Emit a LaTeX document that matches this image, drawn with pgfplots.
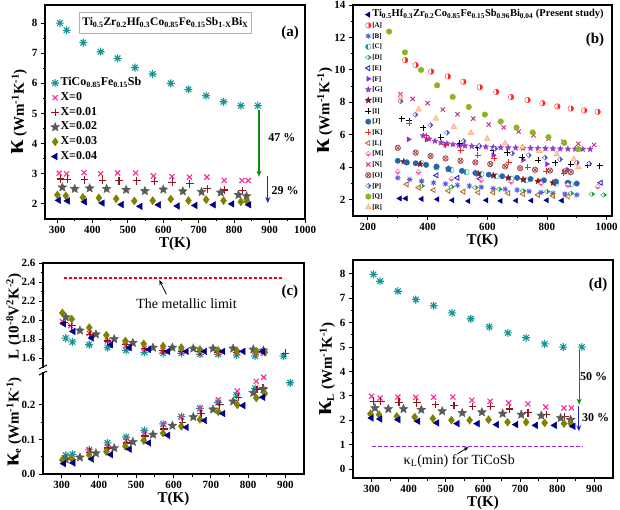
\documentclass[border=0pt]{standalone}
\usepackage{pgfplots}
\pgfplotsset{compat=1.18}
\usepackage{fontspec}
\setmainfont{Liberation Serif}
\usetikzlibrary{plotmarks,arrows.meta}

\definecolor{cTeal}{RGB}{20,150,150}
\definecolor{cPink}{RGB}{255,40,150}
\definecolor{cDRed}{RGB}{150,20,30}
\definecolor{cGray}{RGB}{90,90,90}
\definecolor{cOlive}{RGB}{128,128,0}
\definecolor{cNavy}{RGB}{0,0,140}
\definecolor{cGreen}{RGB}{20,140,20}
\definecolor{cBlue}{RGB}{20,40,200}
\definecolor{cPurple}{RGB}{140,40,230}
\definecolor{bA}{RGB}{255,40,40}
\definecolor{bB}{RGB}{90,90,230}
\definecolor{bC}{RGB}{30,160,160}
\definecolor{bD}{RGB}{30,160,60}
\definecolor{bE}{RGB}{40,40,190}
\definecolor{bF}{RGB}{140,40,240}
\definecolor{bG}{RGB}{150,60,200}
\definecolor{bH}{RGB}{140,20,30}
\definecolor{bJ}{RGB}{40,100,170}
\definecolor{bK}{RGB}{255,30,30}
\definecolor{bL}{RGB}{170,110,50}
\definecolor{bM}{RGB}{255,90,170}
\definecolor{bN}{RGB}{200,40,140}
\definecolor{bO}{RGB}{170,70,70}
\definecolor{bP}{RGB}{80,80,190}
\definecolor{bQ}{RGB}{140,180,30}
\definecolor{bR}{RGB}{255,150,80}

\pgfdeclareplotmark{ast8}{%
 \pgfpathmoveto{\pgfqpoint{-\pgfplotmarksize}{0pt}}\pgfpathlineto{\pgfqpoint{\pgfplotmarksize}{0pt}}%
 \pgfpathmoveto{\pgfqpoint{0pt}{-\pgfplotmarksize}}\pgfpathlineto{\pgfqpoint{0pt}{\pgfplotmarksize}}%
 \pgfpathmoveto{\pgfpointpolar{45}{\pgfplotmarksize}}\pgfpathlineto{\pgfpointpolar{225}{\pgfplotmarksize}}%
 \pgfpathmoveto{\pgfpointpolar{135}{\pgfplotmarksize}}\pgfpathlineto{\pgfpointpolar{315}{\pgfplotmarksize}}%
 \pgfusepathqstroke}
\pgfdeclareplotmark{fstar}{%
 \pgfpathmoveto{\pgfpointpolar{90}{\pgfplotmarksize}}%
 \pgfpathlineto{\pgfpointpolar{126}{0.45\pgfplotmarksize}}%
 \pgfpathlineto{\pgfpointpolar{162}{\pgfplotmarksize}}%
 \pgfpathlineto{\pgfpointpolar{198}{0.45\pgfplotmarksize}}%
 \pgfpathlineto{\pgfpointpolar{234}{\pgfplotmarksize}}%
 \pgfpathlineto{\pgfpointpolar{270}{0.45\pgfplotmarksize}}%
 \pgfpathlineto{\pgfpointpolar{306}{\pgfplotmarksize}}%
 \pgfpathlineto{\pgfpointpolar{342}{0.45\pgfplotmarksize}}%
 \pgfpathlineto{\pgfpointpolar{18}{\pgfplotmarksize}}%
 \pgfpathlineto{\pgfpointpolar{54}{0.45\pgfplotmarksize}}%
 \pgfpathclose\pgfusepathqfillstroke}

\pgfplotsset{
 myax/.style={scale only axis, anchor=south west, clip=false,
  tick align=outside, tick pos=left,
  axis line style={line width=1.1pt},
  major tick length=4pt, minor tick length=2.5pt,
  every tick/.append style={black, line width=0.9pt},
  ticklabel style={font=\bfseries\fontsize{11}{11}\selectfont},
  /pgf/number format/assume math mode=true,
  /pgf/number format/1000 sep={},
  xlabel style={font=\bfseries\fontsize{15}{15}\selectfont},
  ylabel style={font=\bfseries\fontsize{15}{15}\selectfont},
  xlabel shift=-3.5pt,
  minor x tick num=1, minor y tick num=1},
 sTiCo/.style={only marks, mark=ast8, mark size=4pt, cTeal, line width=1.1pt},
 sX0/.style={only marks, mark=x, mark size=3.6pt, cPink, line width=1.1pt},
 sX1/.style={only marks, mark=+, mark size=3.8pt, cDRed, line width=1.2pt},
 sX2/.style={only marks, mark=fstar, mark size=4.6pt, cGray, mark options={fill=cGray}},
 sX3/.style={only marks, mark=diamond*, mark size=4pt, cOlive, mark options={fill=cOlive}},
 sX4/.style={only marks, mark=triangle*, mark size=3.8pt, cNavy, mark options={fill=cNavy, rotate=90}},
}

\begin{document}
\begin{tikzpicture}
\path[use as bounding box] (0,0) rectangle (620pt,509pt);

%================ (a)
\begin{axis}[myax, at={(45pt,290pt)}, width=260pt, height=214pt,
 xmin=266, xmax=1000, ymin=1.5, ymax=8.6,
 xtick={300,400,...,1000}, ytick={2,3,...,8},
 xlabel={T(K)}, ylabel shift=-2pt,
 ylabel={{\fontsize{26}{26}\selectfont κ} (Wm\textsuperscript{-1}K\textsuperscript{-1})},
 legend style={at={(0.01,0.68)}, anchor=north west, draw=none, fill=none,
  font=\bfseries\fontsize{12}{12}\selectfont, row sep=0pt,
  nodes={inner sep=1pt, text height=9pt, text depth=3.7pt}},
 legend cell align=left]
\addplot[sTiCo] coordinates {(308,8.0)(327,7.76)(374,7.35)(423,7.05)(471,6.83)(520,6.52)(570,6.31)(621,6.0)(671,5.8)(721,5.59)(770,5.39)(819,5.26)(867,5.26)};
\addlegendentry{TiCo\textsubscript{0.85}Fe\textsubscript{0.15}Sb}
\addplot[sX0] coordinates {(306,3.02)(327,3.0)(376,3.04)(423,3.0)(471,3.03)(522,3.03)(572,2.93)(624,2.91)(674,2.89)(723,2.89)(772,2.78)(822,2.78)(840,2.78)};
\addlegendentry{X=0}
\addplot[sX1] coordinates {(310,2.83)(330,2.82)(378,2.80)(428,2.79)(475,2.77)(525,2.77)(575,2.74)(625,2.72)(675,2.67)(724,2.5)(772,2.46)(823,2.44)};
\addlegendentry{X=0.01}
\addplot[sX2] coordinates {(315,2.55)(350,2.5)(392,2.52)(440,2.5)(495,2.47)(548,2.43)(600,2.48)(655,2.42)(708,2.4)(762,2.38)(812,2.3)(835,2.26)};
\addlegendentry{X=0.02}
\addplot[sX3] coordinates {(301,2.3)(325,2.27)(373,2.22)(418,2.2)(467,2.17)(518,2.1)(570,2.11)(621,2.16)(671,2.11)(721,2.14)(770,2.11)(819,2.07)(836,2.08)};
\addlegendentry{X=0.03}
\addplot[sX4] coordinates {(305,2.12)(330,2.1)(378,2.07)(428,2.03)(482,1.98)(535,1.92)(587,1.97)(640,1.93)(690,1.95)(742,1.97)(794,2.0)(842,1.97)};
\addlegendentry{X=0.04}
\node[draw=gray!60, line width=0.8pt, fill=white, inner sep=3pt, minimum width=165pt, minimum height=21pt,
 font=\bfseries\fontsize{11.5}{12}\selectfont] at (axis cs:606,8.02)
 {Ti\textsubscript{0.5}Zr\textsubscript{0.2}Hf\textsubscript{0.3}Co\textsubscript{0.85}Fe\textsubscript{0.15}Sb\textsubscript{1-X}Bi\textsubscript{X}};
\node[font=\bfseries\fontsize{15}{15}\selectfont] at (axis cs:958,7.67) {(a)};
\draw[cGreen, line width=1.2pt, -{Stealth[length=6pt,width=5pt]}] (axis cs:870,5.1) -- (axis cs:870,2.9);
\draw[cBlue, line width=1.2pt, -{Stealth[length=6pt,width=5pt]}] (axis cs:895,2.92) -- (axis cs:895,2.03);
\node[font=\bfseries\fontsize{12}{12}\selectfont] at (axis cs:935,4.19) {47 \%};
\node[font=\bfseries\fontsize{12}{12}\selectfont] at (axis cs:944,2.43) {29 \%};
\end{axis}

%================ (b)
\begin{axis}[myax, at={(353pt,293pt)}, width=259pt, height=211pt,
 xmin=150, xmax=1018, ymin=1, ymax=14,
 xtick={200,400,...,1000}, ytick={2,4,...,14},
 xlabel={T(K)}, ylabel shift=-5pt,
 ylabel={{\fontsize{26}{26}\selectfont κ} (Wm\textsuperscript{-1}K\textsuperscript{-1})},
 legend style={at={(0.035,0.99)}, anchor=north west, draw=none, fill=none,
  font=\bfseries\fontsize{7}{7}\selectfont, row sep=0pt,
  nodes={inner sep=0.9pt, text height=6.6pt, text depth=2.3pt}},
 legend cell align=left,
 legend image code/.code={\draw[mark repeat=2,mark phase=2,#1] plot coordinates {(0cm,0cm) (0.13cm,0cm) (0.26cm,0cm)};}]
\addplot[only marks, mark=triangle*, mark size=3pt, cNavy, mark options={fill=cNavy, rotate=90}] coordinates {(307,2.08)(327,2.08)(380,2.05)(433,2.03)(483,1.97)(537,1.92)(597,1.97)(645,1.93)(697,1.95)(748,1.95)(800,1.97)(850,1.95)};
\addlegendentry{\fontsize{10.5}{10.5}\selectfont Ti\textsubscript{0.5}Hf\textsubscript{0.3}Zr\textsubscript{0.2}Co\textsubscript{0.85}Fe\textsubscript{0.15}Sb\textsubscript{0.96}Bi\textsubscript{0.04} (Present study)}
\addplot[only marks, mark=halfcircle*, mark size=2.8pt, bA, mark options={fill=bA, rotate=-90}] coordinates {(325,10.6)(360,10.3)(412,9.9)(468,9.6)(520,9.27)(575,8.93)(630,8.65)(680,8.33)(735,8.15)(785,7.95)(835,7.75)(880,7.62)(925,7.5)(970,7.42)};
\addlegendentry{[A]}
\addplot[only marks, mark=ast8, mark size=2.8pt, bB, line width=0.8pt] coordinates {(300,3.35)(340,3.25)(380,3.15)(420,3.05)(460,2.98)(500,2.9)(540,2.85)(580,2.78)(620,2.7)(660,2.65)(700,2.6)(740,2.52)(780,2.45)(820,2.4)(860,2.35)(900,2.3)};
\addlegendentry{[B]}
\addplot[only marks, mark=halfcircle*, mark size=2.8pt, bC, mark options={fill=bC, rotate=90}] coordinates {(330,4.3)(380,4.25)(430,4.0)(480,3.85)(530,3.7)(580,3.58)(630,3.45)(680,3.3)(730,3.2)(780,3.12)(830,3.0)(880,2.95)};
\addlegendentry{[C]}
\addplot[only marks, mark=halfdiamond*, mark size=3pt, bD, mark options={fill=bD, rotate=90}] coordinates {(380,2.85)(480,2.8)(560,2.75)(640,2.65)(720,2.55)(800,2.5)(880,2.4)(950,2.35)(990,2.3)};
\addlegendentry{[D]}
\addplot[only marks, mark=triangle, mark size=2.8pt, bE, line width=0.9pt, mark options={rotate=90}] coordinates {(430,3.5)(500,3.35)(575,3.3)(980,3.05)};
\addlegendentry{[E]}
\addplot[only marks, mark=triangle*, mark size=2.8pt, bF, mark options={fill=bF, rotate=-90}] coordinates {(336,5.72)(396,5.7)(459,5.38)(511,5.35)(620,4.75)(720,4.45)(800,4.2)(870,3.85)};
\addlegendentry{[F]}
\addplot[only marks, mark=fstar, mark size=3pt, bG, mark options={fill=bG}] coordinates {(385,5.95)(405,5.75)(425,5.62)(445,5.52)(465,5.46)(485,5.41)(505,5.37)(525,5.33)(548,5.3)(570,5.28)(595,5.26)(620,5.24)(645,5.22)(670,5.21)(695,5.2)(720,5.19)(745,5.18)(770,5.17)(795,5.16)(820,5.15)(845,5.14)(870,5.13)(895,5.13)(920,5.12)(945,5.12)};
\addlegendentry{[G]}
\addplot[only marks, mark=fstar, mark size=3.2pt, bH, mark options={fill=bH}] coordinates {(320,4.35)(375,4.2)(470,3.9)(570,3.6)(620,3.5)(670,3.35)(720,3.25)(770,3.15)(820,3.05)(870,3.0)};
\addlegendentry{[H]}
\addplot[only marks, mark=+, mark size=3pt, black, line width=0.9pt] coordinates {(313,7.0)(338,6.88)(386,6.43)(444,5.85)(508,5.47)(568,5.22)(620,5.02)(666,4.9)(718,4.62)(770,4.45)(827,4.28)(879,4.2)(936,4.12)(977,4.1)};
\addlegendentry{[I]}
\addplot[only marks, mark=*, mark size=2.7pt, bJ, mark options={fill=bJ}] coordinates {(300,4.4)(330,4.3)(360,4.25)(395,4.15)(430,4.05)(470,3.9)(515,3.78)(560,3.65)(605,3.55)(650,3.45)(700,3.35)(745,3.28)(790,3.2)(830,3.12)(870,3.05)(900,3.0)};
\addlegendentry{[J]}
\addplot[only marks, mark=+, mark size=3pt, bK, line width=0.9pt] coordinates {(338,6.72)(396,5.95)(460,5.38)(511,5.05)(568,4.75)(623,4.55)(672,4.3)(735,4.0)(798,3.75)(856,3.62)};
\addlegendentry{[K]}
\addplot[only marks, mark=triangle, mark size=2.8pt, bL, line width=0.9pt, mark options={rotate=90}] coordinates {(330,2.95)(370,2.75)(420,2.6)(470,2.55)(520,2.5)(570,2.45)(620,2.45)(670,2.4)(720,2.35)(770,2.3)(820,2.25)(870,2.2)};
\addlegendentry{[L]}
\addplot[only marks, mark=halfsquare*, mark size=2.6pt, bM, mark options={fill=bM}] coordinates {(300,3.72)(370,3.7)(480,3.3)(580,3.2)(680,3.1)(780,3.0)(870,2.9)(970,2.8)};
\addlegendentry{[M]}
\addplot[only marks, mark=x, mark size=3pt, bN, line width=0.9pt] coordinates {(309,8.5)(350,8.22)(400,7.95)(451,7.56)(500,7.27)(553,7.0)(605,6.64)(655,6.45)(705,6.2)(755,5.97)(805,5.76)(855,5.58)(905,5.45)(958,5.38)};
\addlegendentry{[N]}
\addplot[only marks, mark=otimes, mark size=2.7pt, bO, line width=0.8pt] coordinates {(300,5.2)(360,4.9)(410,4.7)(460,4.55)(510,4.4)(560,4.3)(610,4.2)(660,4.05)(710,3.95)(760,3.85)(810,3.8)(860,3.75)(880,3.7)};
\addlegendentry{[O]}
\addplot[only marks, mark=halfsquare right*, mark size=2.6pt, bP, mark options={fill=bP}] coordinates {(309,8.07)(359,7.25)(409,6.6)(465,6.13)(520,5.62)(574,5.31)(626,5.14)(683,4.86)(739,4.74)(793,4.59)(844,4.49)(900,4.29)(942,4.23)};
\addlegendentry{[P]}
\addplot[only marks, mark=*, mark size=2.8pt, bQ, mark options={fill=bQ}] coordinates {(271,12.36)(324,11.08)(378,10.0)(432,9.05)(484,8.34)(538,7.72)(592,7.25)(645,6.82)(698,6.45)(752,6.15)(805,5.86)(858,5.5)(905,5.12)};
\addlegendentry{[Q]}
\addplot[only marks, mark=triangle*, mark size=3.2pt, bR, mark options={fill=bR!45}] coordinates {(309,8.31)(370,7.56)(428,7.0)(488,6.5)(545,6.13)(600,5.76)(660,5.47)(718,5.25)(775,5.0)(833,4.8)(890,4.5)(905,4.0)};
\addlegendentry{[R]}
\node[font=\bfseries\fontsize{15}{15}\selectfont] at (axis cs:961,11.84) {(b)};
\end{axis}

%================ (c) lower
\begin{axis}[myax, at={(43pt,35pt)}, width=261pt, height=104pt,
 xmin=250, xmax=950, ymin=0, ymax=0.301,
 axis line style={draw=none},
 xtick={300,400,...,900}, ytick={0,0.1,0.2}, minor y tick num=1,
 yticklabel style={/pgf/number format/.cd, fixed, fixed zerofill, precision=1},
 xlabel={T(K)}, ylabel shift=-7pt,
 ylabel={{\fontsize{24}{24}\selectfont κ}\textsubscript{e} (Wm\textsuperscript{-1}K\textsuperscript{-1})}]
\draw[line width=1.1pt, line join=miter] (rel axis cs:0,1) -- (rel axis cs:0,0) -- (rel axis cs:1,0) -- (rel axis cs:1,1);
\addplot[sTiCo] coordinates {(311,0.054)(329,0.057)(374,0.070)(423,0.090)(473,0.107)(522,0.126)(572,0.145)(621,0.166)(671,0.19)(720,0.207)(769,0.229)(819,0.248)(913,0.264)};
\addplot[sX0] coordinates {(304,0.042)(324,0.048)(374,0.068)(423,0.078)(473,0.097)(522,0.118)(574,0.143)(621,0.166)(671,0.19)(720,0.215)(771,0.24)(822,0.268)(842,0.28)};
\addplot[sX1] coordinates {(306,0.04)(327,0.043)(376,0.063)(425,0.075)(475,0.09)(524,0.11)(574,0.13)(624,0.15)(674,0.175)(724,0.2)(774,0.222)(824,0.245)(840,0.25)};
\addplot[sX2] coordinates {(311,0.042)(349,0.048)(392,0.06)(441,0.075)(491,0.093)(545,0.114)(597,0.14)(653,0.165)(706,0.187)(760,0.21)(814,0.235)(841,0.245)};
\addplot[sX3] coordinates {(302,0.04)(327,0.044)(374,0.055)(420,0.065)(471,0.08)(520,0.097)(572,0.118)(621,0.138)(671,0.158)(720,0.18)(771,0.2)(822,0.22)(845,0.233)};
\addplot[sX4] coordinates {(306,0.03)(331,0.032)(381,0.043)(432,0.056)(482,0.072)(534,0.09)(585,0.112)(635,0.135)(684,0.155)(733,0.175)(787,0.198)(840,0.222)};
\end{axis}

%================ (c) upper
\begin{axis}[myax, at={(43pt,139pt)}, width=261pt, height=107pt,
 xmin=250, xmax=950, ymin=1.474, ymax=2.6,
 axis line style={draw=none},
 xtick=\empty, ytick={1.6,1.8,...,2.6}, minor y tick num=1,
 yticklabel style={/pgf/number format/.cd, fixed, fixed zerofill, precision=1},
 ylabel shift=-7pt,
 ylabel={L (10\textsuperscript{-8}V\textsuperscript{2}K\textsuperscript{-2})}]
\draw[line width=1.1pt, line join=miter] (rel axis cs:0,0) -- (rel axis cs:0,1) -- (rel axis cs:1,1) -- (rel axis cs:1,0);
\addplot[red, line width=1.5pt, dash pattern=on 3pt off 2pt] coordinates {(305,2.44)(895,2.44)};
\addplot[sTiCo] coordinates {(311,1.81)(329,1.77)(374,1.74)(423,1.71)(473,1.68)(522,1.66)(572,1.65)(621,1.65)(671,1.64)(720,1.64)(769,1.63)(819,1.62)(895,1.62)};
\addplot[sX0] coordinates {(302,1.985)(324,1.94)(374,1.86)(423,1.78)(471,1.73)(522,1.70)(572,1.68)(621,1.67)(671,1.66)(720,1.66)(771,1.66)(822,1.66)(842,1.65)};
\addplot[sX1] coordinates {(306,1.975)(327,1.94)(376,1.85)(423,1.78)(473,1.74)(522,1.70)(572,1.68)(621,1.67)(671,1.67)(720,1.66)(769,1.66)(823,1.66)(900,1.65)};
\addplot[sX2] coordinates {(311,2.03)(349,1.89)(392,1.85)(441,1.80)(491,1.76)(545,1.71)(597,1.71)(653,1.70)(706,1.70)(760,1.70)(814,1.69)(841,1.68)};
\addplot[sX3] coordinates {(302,2.075)(327,2.01)(374,1.92)(420,1.84)(471,1.78)(520,1.75)(572,1.725)(621,1.71)(671,1.69)(720,1.68)(771,1.67)(822,1.67)(845,1.66)};
\addplot[sX4] coordinates {(306,1.96)(331,1.88)(381,1.81)(432,1.74)(482,1.71)(534,1.69)(585,1.67)(635,1.67)(684,1.67)(733,1.67)(787,1.67)(840,1.67)};
\node[font=\fontsize{14}{14}\selectfont] at (axis cs:635,2.17) {The metallic limit};
\draw[black, line width=0.8pt, -{Stealth[length=5pt,width=4pt]}] (axis cs:581,2.27) -- (axis cs:562,2.42);
\node[font=\bfseries\fontsize{15}{15}\selectfont] at (axis cs:912,2.295) {(c)};
\fill[white] ([xshift=-1.6pt,yshift=-2pt]rel axis cs:0,0) rectangle ([xshift=1.6pt,yshift=2pt]rel axis cs:0,0);
\draw[line width=1pt] ([xshift=-4pt,yshift=-5pt]rel axis cs:0,0) -- ([xshift=4pt,yshift=-1pt]rel axis cs:0,0);
\draw[line width=1pt] ([xshift=-4pt,yshift=1pt]rel axis cs:0,0) -- ([xshift=4pt,yshift=5pt]rel axis cs:0,0);
\end{axis}

%================ (d)
\begin{axis}[myax, at={(353pt,31pt)}, width=260pt, height=218pt,
 xmin=250, xmax=950, ymin=-0.37, ymax=8.57,
 xtick={300,400,...,900}, ytick={0,1,...,8},
 xlabel={T(K)}, ylabel shift=-2pt,
 ylabel={{\fontsize{26}{26}\selectfont κ}\textsubscript{L} (Wm\textsuperscript{-1}K\textsuperscript{-1})}]
\addplot[cPurple, line width=1.3pt, dash pattern=on 4pt off 2pt] coordinates {(302,0.93)(870,0.93)};
\addplot[sTiCo] coordinates {(305,7.98)(323,7.7)(371,7.29)(419,6.95)(467,6.7)(517,6.4)(567,6.16)(617,5.83)(667,5.58)(716,5.38)(766,5.13)(816,5.0)(866,5.0)};
\addplot[sX0] coordinates {(300,2.98)(323,2.91)(371,2.95)(419,2.94)(467,2.94)(519,2.95)(570,2.82)(619,2.78)(669,2.71)(721,2.67)(769,2.54)(818,2.5)(838,2.5)};
\addplot[sX1] coordinates {(305,2.78)(325,2.78)(374,2.74)(422,2.71)(472,2.64)(522,2.6)(572,2.57)(621,2.57)(671,2.46)(721,2.3)(771,2.23)(820,2.16)};
\addplot[sX2] coordinates {(309,2.5)(345,2.46)(386,2.46)(434,2.43)(490,2.37)(544,2.3)(597,2.33)(653,2.27)(703,2.23)(757,2.19)(809,2.09)(836,2.02)};
\addplot[sX3] coordinates {(297,2.26)(320,2.23)(368,2.16)(416,2.13)(465,2.07)(515,2.0)(564,2.0)(615,2.02)(666,1.92)(716,1.92)(766,1.89)(818,1.86)(836,1.86)};
\addplot[sX4] coordinates {(300,2.09)(323,2.05)(372,2.02)(425,1.96)(476,1.89)(531,1.86)(585,1.86)(637,1.82)(689,1.82)(742,1.79)(793,1.79)(843,1.75)};
\node[font=\fontsize{14}{14}\selectfont] at (axis cs:536,0.33) {κ\textsubscript{L}(min) for TiCoSb};
\draw[black, line width=0.8pt, -{Stealth[length=5pt,width=4pt]}] (axis cs:531,0.62) -- (axis cs:561,0.9);
\node[font=\bfseries\fontsize{15}{15}\selectfont] at (axis cs:910,7.55) {(d)};
\draw[cGreen, line width=1.2pt, -{Stealth[length=6pt,width=5pt]}] (axis cs:859,4.9) -- (axis cs:859,2.64);
\draw[cBlue, line width=1.2pt, -{Stealth[length=6pt,width=5pt]}] (axis cs:858,2.58) -- (axis cs:858,1.55);
\node[font=\bfseries\fontsize{12}{12}\selectfont] at (axis cs:898,3.77) {50 \%};
\node[font=\bfseries\fontsize{12}{12}\selectfont] at (axis cs:903,2.09) {30 \%};
\end{axis}
\end{tikzpicture}
\end{document}
